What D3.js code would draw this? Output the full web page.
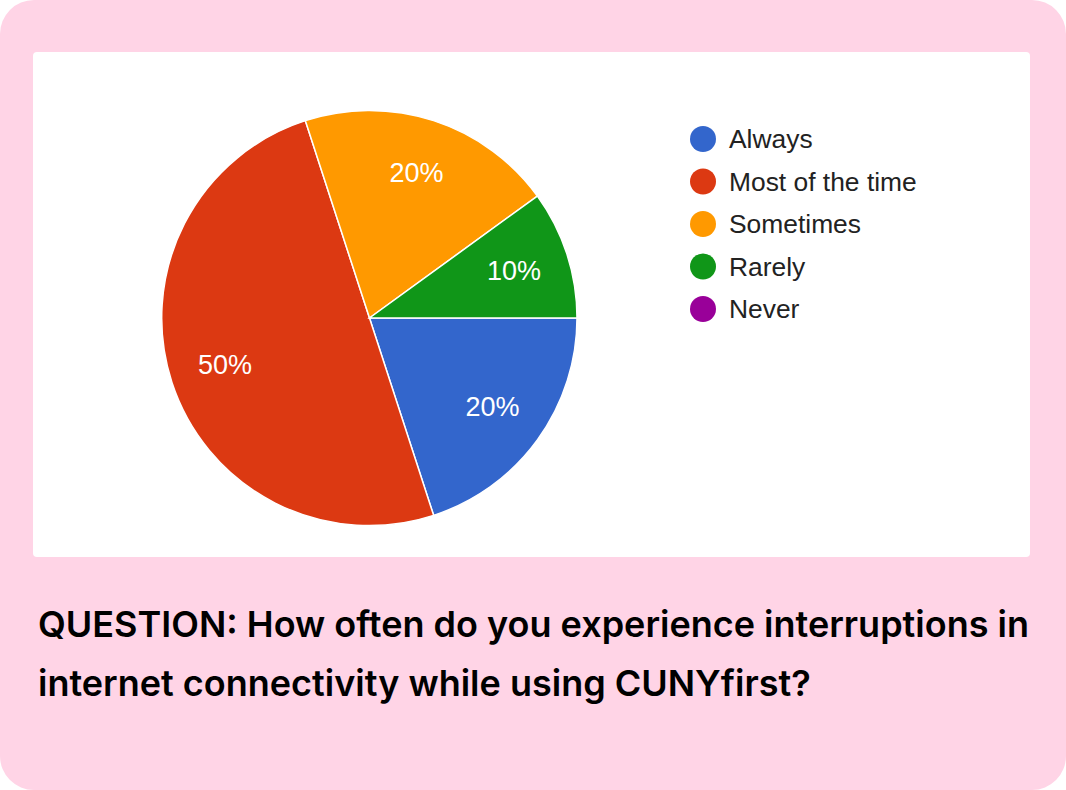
<!DOCTYPE html>
<html>
<head>
<meta charset="utf-8">
<script src="https://cdn.jsdelivr.net/npm/d3@7"></script>
<style>
  html, body { margin: 0; padding: 0; background: #ffffff; }
  svg { display: block; }
</style>
</head>
<body>
<svg id="chart" width="1066" height="790"></svg>
<script>
const categories = ["Always", "Most of the time", "Sometimes", "Rarely", "Never"];
const values = [20, 50, 20, 10, 0];
const colors = ["#3366CC", "#DC3912", "#FF9900", "#109618", "#990099"];
const questionLines = [
  "QUESTION: How often do you experience interruptions in",
  "internet connectivity while using CUNYfirst?"
];

const svg = d3.select("#chart");
const W = 1066, H = 790;

// pink card
svg.append("rect").attr("x", 0).attr("y", 0).attr("width", W).attr("height", H)
  .attr("rx", 34).attr("ry", 34).attr("fill", "#FFD4E6");

// white chart panel
svg.append("rect").attr("x", 33).attr("y", 52).attr("width", 997).attr("height", 505)
  .attr("rx", 4).attr("ry", 4).attr("fill", "#ffffff");

const cx = 369.5, cy = 318, R = 207.5;
const total = d3.sum(values);

const pie = d3.pie().sort(null).value(d => d)
  .startAngle(Math.PI / 2).endAngle(Math.PI / 2 + 2 * Math.PI);
const arcs = pie(values);
const arc = d3.arc().innerRadius(0).outerRadius(R);
const labelArc = d3.arc().innerRadius(152).outerRadius(152);

const g = svg.append("g").attr("transform", `translate(${cx},${cy})`);
g.selectAll("path.slice").data(arcs.filter(d => d.value > 0)).enter().append("path")
  .attr("class", "slice")
  .attr("d", arc)
  .attr("fill", d => colors[d.index])
  .attr("stroke", "#ffffff")
  .attr("stroke-width", 1.5);

g.selectAll("text.pct").data(arcs.filter(d => d.value > 0)).enter().append("text")
  .attr("class", "pct")
  .attr("transform", d => `translate(${labelArc.centroid(d)})`)
  .attr("text-anchor", "middle")
  .attr("dominant-baseline", "central")
  .attr("font-family", "Liberation Sans, Arial, sans-serif")
  .attr("font-size", 27)
  .attr("fill", "#ffffff")
  .text(d => Math.round(d.value / total * 100) + "%");

// legend
const legendY = d3.scalePoint().domain(categories).range([139, 309]);
const lg = svg.append("g");
const items = lg.selectAll("g.item").data(categories).enter().append("g")
  .attr("class", "item")
  .attr("transform", d => `translate(0,${legendY(d)})`);
items.append("circle").attr("cx", 703).attr("cy", 0).attr("r", 13)
  .attr("fill", (d, i) => colors[i]);
items.append("text").attr("x", 729).attr("y", 0)
  .attr("dominant-baseline", "central")
  .attr("font-family", "Liberation Sans, Arial, sans-serif")
  .attr("font-size", 26.4)
  .attr("fill", "#222222")
  .text(d => d);

// question
svg.selectAll("text.q").data(questionLines).enter().append("text")
  .attr("class", "q")
  .attr("x", 38)
  .attr("y", (d, i) => 637 + i * 59)
  .attr("font-family", "Inter, sans-serif")
  .attr("font-weight", 600)
  .attr("font-size", 36)
  .attr("fill", "#000000")
  .text(d => d);
</script>
</body>
</html>
